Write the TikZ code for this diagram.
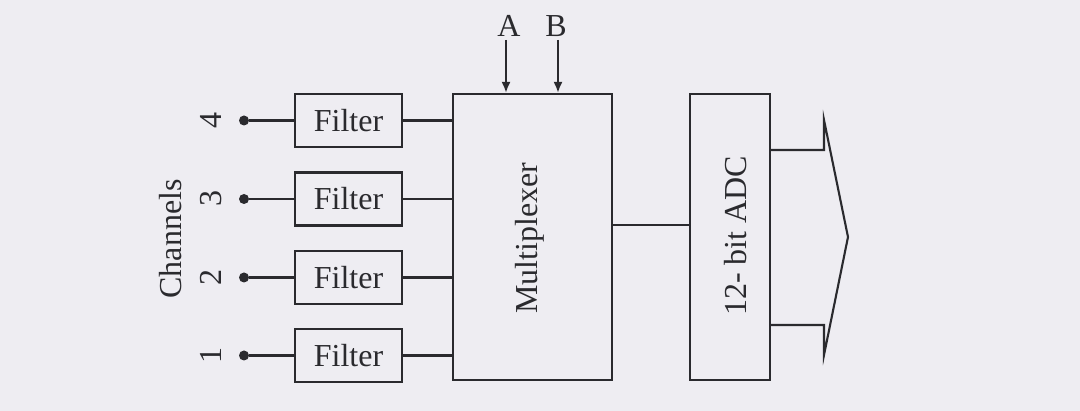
\documentclass[tikz,border=0pt]{standalone}
\usepackage{fontspec}
\setmainfont{Liberation Serif}
\usetikzlibrary{arrows.meta}
\definecolor{paper}{RGB}{238,237,242}
\definecolor{ink}{RGB}{42,42,46}
\begin{document}
\begin{tikzpicture}[x=1pt,y=-1pt,
  lbl/.style={font=\fontsize{32}{36}\selectfont, text=ink, inner sep=0pt},
  box/.style={draw=ink, line width=2.1pt, rectangle, inner sep=0pt, font=\fontsize{32}{36}\selectfont, text=ink},
  filterbox/.style={box, minimum width=107pt, minimum height=53pt},
  wire/.style={draw=ink, line width=2.1pt},
  dotnode/.style={circle, fill=ink, inner sep=0pt, minimum size=10pt},
  ctrl/.style={wire, -{Latex[length=11pt,width=9pt]}}]
\fill[paper] (0,0) rectangle (1080,411);
\useasboundingbox (0,0) rectangle (1080,411);

% main blocks
\node[box, minimum width=159pt, minimum height=286pt] (mux) at (532.5,237) {};
\node[lbl, rotate=90] (muxt) at (530,238) {Multiplexer};
\node[box, minimum width=80pt, minimum height=286pt] (adc) at (730,237) {};
\node[lbl, rotate=90] (adct) at (736,236) {12- bit ADC};

% filters, dots, numbers
\foreach \n/\y in {4/120.5,3/199,2/277.5,1/355.5}{
  \node[filterbox] (f\n) at (348.5,\y) {Filter};
  \node[dotnode] (d\n) at (244,\y) {};
  \node[lbl, rotate=90] (c\n) at (211,\y) {\n};
  \draw[wire] (d\n) -- (f\n.west);
  \draw[wire] (f\n.east) -- (f\n.east -| mux.west);
}
\node[lbl, rotate=90] (chan) at (171,239) {Channels};

% control inputs
\node[lbl, anchor=base] (A) at (509,37) {A};
\node[lbl, anchor=base] (B) at (556,37) {B};
\coordinate (a0) at (506,40);
\coordinate (b0) at (558,40);
\draw[ctrl] (a0) -- (a0 |- mux.north);
\draw[ctrl] (b0) -- (b0 |- mux.north);

% mux to adc
\coordinate (m) at (612,225);
\draw[wire] (m) -- (m -| adc.west);

% output bus arrow
\coordinate (o1) at (770,150);
\coordinate (o2) at (770,325);
\draw[wire, line join=miter] (o1) -- (824,150) -- (824,120) -- (848,237) -- (824,355) -- (824,325) -- (o2);
\end{tikzpicture}
\end{document}
